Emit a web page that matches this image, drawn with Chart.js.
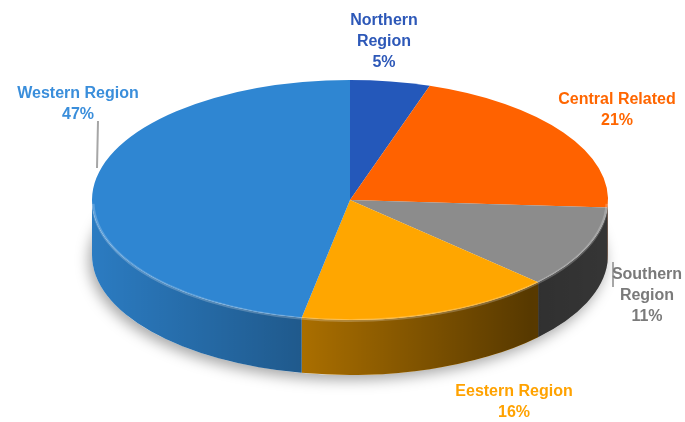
<!DOCTYPE html>
<html>
<head>
<meta charset="utf-8">
<script src="https://cdn.jsdelivr.net/npm/chart.js@4"></script>
<style>
  html, body { margin: 0; padding: 0; background: #fff; }
  #pie { display: block; }
</style>
</head>
<body>
<canvas id="pie" width="685" height="422"></canvas>
<script>
// chart data
const categories = ["Northern Region", "Central Related", "Southern Region", "Eestern Region", "Western Region"];
const shares = [5, 21, 11, 16, 47];
const sliceColors = ["#2458ba", "#ff6200", "#8c8c8c", "#ffa600", "#2f86d2"];
const labelColors = ["#2d58b8", "#ff6600", "#7a7a7a", "#ffa200", "#3a8edb"];
// labels that break "Region" onto its own line
const wrapLabel = [true, false, true, false, false];

// layout of the tilted disc (pixels)
const CX = 350, CY = 200, RX = 258, RY = 120, DEPTH = 55;
const labelPos = [[384, 21], [617, 100], [647, 275], [514, 392], [78, 94]];
const LINE_H = 21;

function darkWalls(chart) {
    const ctx = chart.ctx;
    const arcs = chart.getDatasetMeta(0).data;

    ctx.save();
    // soft shadow under the disc
    ctx.beginPath();
    ctx.ellipse(CX, CY + DEPTH, RX, RY, 0, 0, Math.PI * 2);
    ctx.fillStyle = "#fff";
    ctx.shadowColor = "rgba(0,0,0,0.35)";
    ctx.shadowBlur = 14;
    ctx.shadowOffsetX = -3;
    ctx.shadowOffsetY = 5;
    ctx.fill();
    ctx.restore();

    const shade = ctx.createLinearGradient(CX - RX, 0, CX + RX, 0);
    shade.addColorStop(0, "rgba(0,0,0,0.08)");
    shade.addColorStop(0.4, "rgba(0,0,0,0.33)");
    shade.addColorStop(0.85, "rgba(0,0,0,0.66)");
    shade.addColorStop(1, "rgba(0,0,0,0.62)");

    arcs.forEach((arc, i) => {
        const s = Math.max(arc.startAngle, 0);
        const e = Math.min(arc.endAngle, Math.PI);
        if (s >= e) return;
        const wall = () => {
            ctx.beginPath();
            ctx.ellipse(CX, CY, RX, RY, 0, s, e, false);
            ctx.ellipse(CX, CY + DEPTH, RX, RY, 0, e, s, true);
            ctx.closePath();
        };
        wall();
        ctx.fillStyle = sliceColors[i];
        ctx.fill();
        wall();
        ctx.fillStyle = shade;
        ctx.fill();
    });
}

const discPlugin = {
    id: "disc3d",
    beforeDatasetsDraw(chart) {
        darkWalls(chart);
        const arc = chart.getDatasetMeta(0).data[0];
        const r = arc.outerRadius;
        const ctx = chart.ctx;
        ctx.save();
        ctx.translate(CX, CY);
        ctx.scale(RX / r, RY / r);
        ctx.translate(-arc.x, -arc.y);
    },
    afterDatasetsDraw(chart) {
        const ctx = chart.ctx;
        ctx.restore();

        // light rim on the front edge of the top face
        ctx.save();
        ctx.beginPath();
        ctx.ellipse(CX, CY + 1.5, RX - 1, RY - 1, 0, 0.02, Math.PI - 0.02, false);
        ctx.strokeStyle = "rgba(255,255,255,0.22)";
        ctx.lineWidth = 3;
        ctx.stroke();
        ctx.restore();

        // leader lines
        ctx.save();
        ctx.strokeStyle = "#a6a6a6";
        ctx.lineWidth = 2;
        ctx.beginPath();
        ctx.moveTo(98, 121);
        ctx.lineTo(97, 168);
        ctx.moveTo(613, 262);
        ctx.lineTo(613, 287);
        ctx.stroke();
        ctx.restore();

        // labels
        ctx.save();
        ctx.font = "bold 16px 'Liberation Sans', Arial, sans-serif";
        ctx.textAlign = "center";
        ctx.textBaseline = "middle";
        categories.forEach((name, i) => {
            const lines = wrapLabel[i] ? name.split(" ") : [name];
            lines.push(shares[i] + "%");
            ctx.fillStyle = labelColors[i];
            lines.forEach((t, k) => {
                ctx.fillText(t, labelPos[i][0], labelPos[i][1] + k * LINE_H);
            });
        });
        ctx.restore();
    }
};

new Chart(document.getElementById("pie").getContext("2d"), {
    type: "pie",
    data: {
        labels: categories,
        datasets: [{
            data: shares,
            backgroundColor: sliceColors,
            borderWidth: 0
        }]
    },
    options: {
        responsive: false,
        animation: false,
        events: [],
        devicePixelRatio: 1,
        layout: { padding: 10 },
        plugins: {
            legend: { display: false },
            tooltip: { enabled: false }
        }
    },
    plugins: [discPlugin]
});
</script>
</body>
</html>
